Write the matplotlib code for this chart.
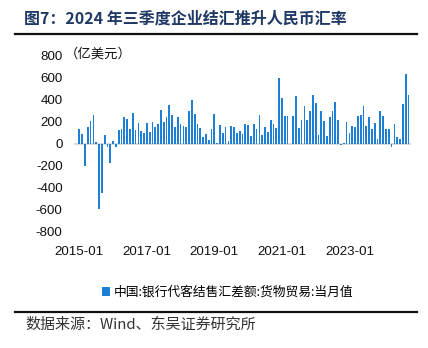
import matplotlib
matplotlib.use("Agg")
import matplotlib.pyplot as plt
from matplotlib.patches import Patch
import pandas as pd

# 银行代客结售汇差额：货物贸易，当月值（亿美元），2015-01 起按月
months = pd.date_range("2015-01-01", periods=118, freq="MS").strftime("%Y-%m").tolist()
values = [
    140, 93, -198, 156, 213, 261, 15, -588, -444, 78, -24, -174,
    30, -24, 123, 135, 243, 225, 132, 285, 128, 190, 117, 100,
    188, 110, 200, 156, 178, 307, 198, 246, 352, 268, 150, 246,
    180, 162, 158, 297, 396, 276, 180, 141, 63, 90, 36, 135,
    276, 6, 171, 96, 156, 27, 168, 153, 96, 120, 90, 180,
    171, 72, 180, 135, 267, 81, 153, 108, 216, 186, 141, 603,
    414, 252, 252, 2, 252, 440, 144, 222, 348, 216, 297, 444,
    375, 78, 297, 207, 72, 243, 300, 381, 216, -5, 6, 201,
    102, 162, 156, 252, 267, 348, 168, 246, 138, 192, 45, 297,
    252, 132, 132, -30, 186, 60, 45, 360, 639, 444,
]
tick_labels = ["2015-01", "2017-01", "2019-01", "2021-01", "2023-01"]
y_ticks = [-800, -600, -400, -200, 0, 200, 400, 600, 800]

title = "图7：2024 年三季度企业结汇推升人民币汇率"
series_name = "中国:银行代客结售汇差额:货物贸易:当月值"
unit = "（亿美元）"
source = "数据来源：Wind、东吴证券研究所"

cjk = ["Noto Sans CJK SC", "DejaVu Sans"]
latin = ["Liberation Sans", "Noto Sans CJK SC", "DejaVu Sans"]
plt.rcParams["font.family"] = cjk

W, H = 428, 348
fig = plt.figure(figsize=(W / 100, H / 100), dpi=100)
fig.patch.set_facecolor("white")

left_px, right_px = 73.7, 411.3
top_px, bottom_px = 56.0, 232.0
ax = fig.add_axes([left_px / W, 1 - bottom_px / H,
                   (right_px - left_px) / W, (bottom_px - top_px) / H])

bar_color = "#1f7fd5"
x = list(range(len(months)))
ax.bar(x, values, width=0.62, color=bar_color, linewidth=0, zorder=3)
ax.axhline(0, color="#d9d9d9", lw=1.4, zorder=2)

ax.set_xlim(-2, len(months) + 0.0)
ax.set_ylim(-800, 800)
ax.set_yticks(y_ticks)
ax.set_yticklabels([str(v) for v in y_ticks])
ax.set_xticks([months.index(t) for t in tick_labels])
ax.set_xticklabels(tick_labels)
for s in ax.spines.values():
    s.set_visible(False)
ax.tick_params(axis="both", length=0, labelsize=9.6, colors="#111111")
ax.tick_params(axis="x", pad=10)
ax.tick_params(axis="y", pad=8)
for lab in ax.get_xticklabels() + ax.get_yticklabels():
    lab.set_family(latin)

# unit label beside the top tick
fig.text(65 / W, 1 - 54 / H, unit, fontsize=9.6, va="center", ha="left",
         color="#111111", family=cjk)

# title and rules
fig.text(24 / W, 1 - 19 / H, title, fontsize=11.5, fontweight="bold",
         color="#1f3864", va="center", ha="left", family=cjk)
fig.add_artist(plt.Line2D([15 / W, 417 / W], [1 - 33.5 / H] * 2,
                          color="#111111", lw=1.6))
fig.add_artist(plt.Line2D([15 / W, 417 / W], [1 - 311.5 / H] * 2,
                          color="#111111", lw=1.6))

# legend
handle = Patch(facecolor=bar_color, edgecolor="none")
fig.legend([handle], [series_name], loc="center",
           bbox_to_anchor=(228 / W, 1 - 292.5 / H), frameon=False,
           handlelength=0.6, handleheight=0.6, handletextpad=0.3,
           prop={"family": cjk, "size": 9.2})

fig.text(25 / W, 1 - 325 / H, source, fontsize=10.8, va="center", ha="left",
         color="#333333", family=cjk)

fig.savefig("out.png", dpi=100, facecolor="white")
